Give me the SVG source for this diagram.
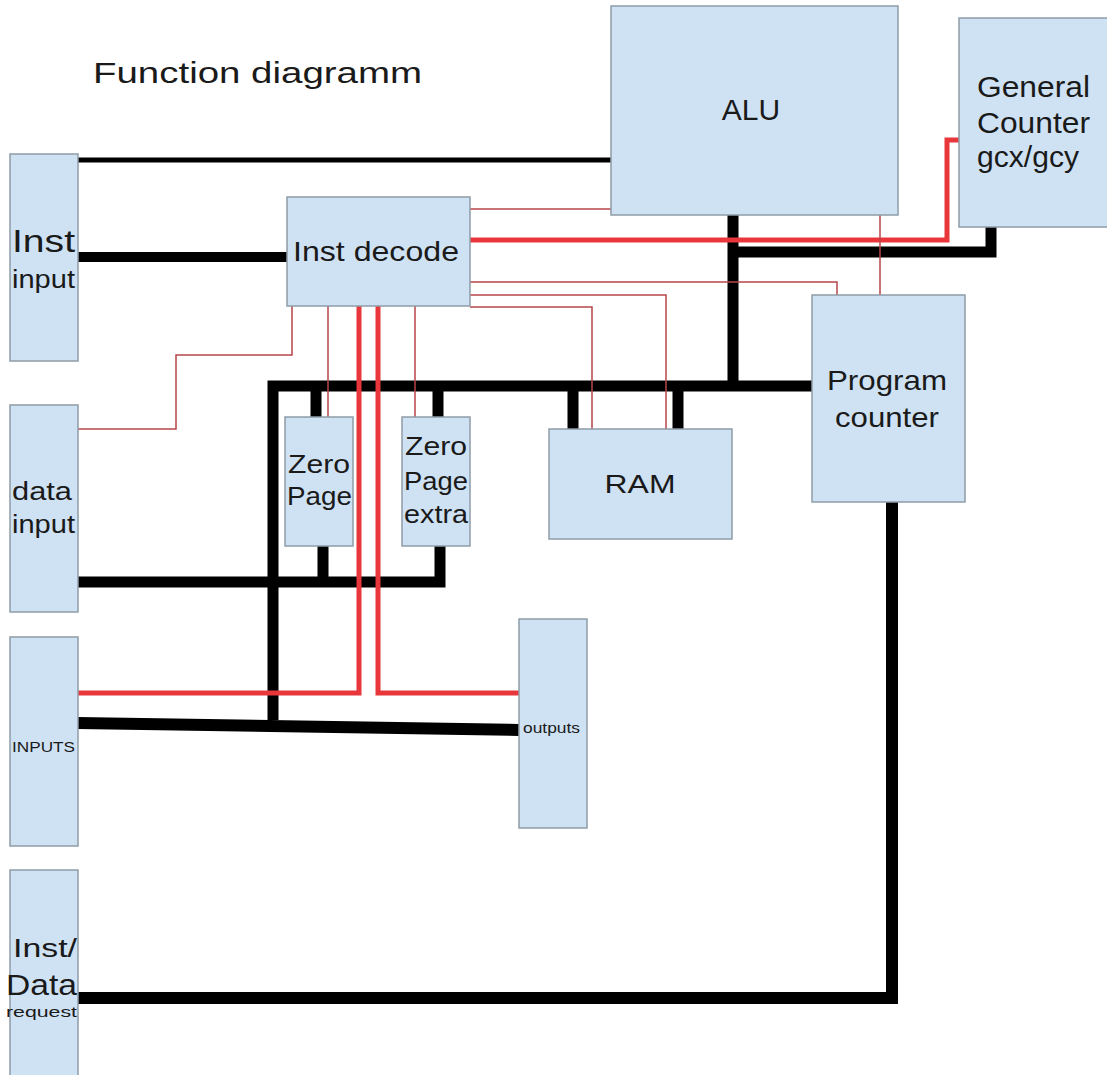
<svg xmlns="http://www.w3.org/2000/svg" width="1107" height="1075" viewBox="0 0 1107 1075">
<style>
.box{fill:#cfe2f3;stroke:#8f9ca8;stroke-width:1.5}
.t{font-family:"Liberation Sans",Arial,sans-serif;fill:#1a1a1a}
.bk{fill:none;stroke:#000;stroke-linejoin:miter}
.rt{fill:none;stroke:#e8363a;stroke-width:5}
.rn{fill:none;stroke:#b8454a;stroke-width:1.5}
</style>
<rect width="1107" height="1075" fill="#fff"/>
<text class="t" x="93" y="83" font-size="30" textLength="329" lengthAdjust="spacingAndGlyphs">Function diagramm</text>

<g id="connectors">
  <path class="bk" stroke-width="5" d="M78,160 H611"/>
  <path class="bk" stroke-width="10" d="M78,257 H287"/>
  <path class="bk" stroke-width="11" d="M733,215 V386"/>
  <path class="bk" stroke-width="11" d="M991,227 V252 H733"/>
  <path class="bk" stroke-width="11" d="M812,386 H273 V720"/>
  <path class="bk" stroke-width="11" d="M316,386 V417 M438,386 V417 M573,386 V429 M678,386 V429"/>
  <path class="bk" stroke-width="11" d="M78,582 H440 V546 M323,546 V582"/>
  <path class="bk" stroke-width="12" d="M78,723 L519,730"/>
  <path class="bk" stroke-width="12" d="M892,502 V998 H78"/>

  <path class="rt" d="M470,240 H947 V140 H959"/>
  <path class="rt" d="M359,306 V693 H78"/>
  <path class="rt" d="M378,306 V693 H519"/>

  <path class="rn" d="M470,209 H611"/>
  <path class="rn" d="M470,282 H837 V295"/>
  <path class="rn" d="M470,295 H666 V429"/>
  <path class="rn" d="M470,307 H592 V429"/>
  <path class="rn" d="M880,215 V295"/>
  <path class="rn" d="M292,306 V355 H176 V429 H78"/>
  <path class="rn" d="M328,306 V417"/>
  <path class="rn" d="M415,306 V417"/>
</g>

<g id="alu">
  <rect class="box" x="611" y="6" width="287" height="209"/>
  <text class="t" x="751" y="120" font-size="30" text-anchor="middle">ALU</text>
</g>
<g id="general-counter">
  <rect class="box" x="959" y="18" width="150" height="209"/>
  <text class="t" x="977" y="97" font-size="30" textLength="113" lengthAdjust="spacingAndGlyphs">General</text>
  <text class="t" x="977" y="133" font-size="30" textLength="113" lengthAdjust="spacingAndGlyphs">Counter</text>
  <text class="t" x="977" y="167" font-size="30" textLength="102" lengthAdjust="spacingAndGlyphs">gcx/gcy</text>
</g>
<g id="inst-decode">
  <rect class="box" x="287" y="197" width="183" height="109"/>
  <text class="t" x="293" y="261" font-size="28" textLength="166" lengthAdjust="spacingAndGlyphs">Inst decode</text>
</g>
<g id="inst-input">
  <rect class="box" x="10" y="154" width="68" height="207"/>
  <text class="t" x="12" y="252" font-size="32" textLength="63" lengthAdjust="spacingAndGlyphs">Inst</text>
  <text class="t" x="12" y="288" font-size="26" textLength="63" lengthAdjust="spacingAndGlyphs">input</text>
</g>
<g id="data-input">
  <rect class="box" x="10" y="405" width="68" height="207"/>
  <text class="t" x="12" y="500" font-size="26" textLength="60" lengthAdjust="spacingAndGlyphs">data</text>
  <text class="t" x="12" y="533" font-size="26" textLength="63" lengthAdjust="spacingAndGlyphs">input</text>
</g>
<g id="inputs">
  <rect class="box" x="10" y="637" width="68" height="209"/>
  <text class="t" x="12" y="752" font-size="14" textLength="63" lengthAdjust="spacingAndGlyphs">INPUTS</text>
</g>
<g id="inst-data-request">
  <rect class="box" x="10" y="870" width="68" height="210"/>
  <text class="t" x="13" y="957" font-size="25" textLength="64" lengthAdjust="spacingAndGlyphs">Inst/</text>
  <text class="t" x="6" y="995" font-size="30" textLength="71" lengthAdjust="spacingAndGlyphs">Data</text>
  <text class="t" x="6" y="1017" font-size="15" textLength="71" lengthAdjust="spacingAndGlyphs">request</text>
</g>
<g id="zero-page">
  <rect class="box" x="285" y="417" width="68" height="129"/>
  <text class="t" x="288" y="473" font-size="25" textLength="62" lengthAdjust="spacingAndGlyphs">Zero</text>
  <text class="t" x="287" y="505" font-size="25" textLength="65" lengthAdjust="spacingAndGlyphs">Page</text>
</g>
<g id="zero-page-extra">
  <rect class="box" x="402" y="417" width="68" height="129"/>
  <text class="t" x="405" y="455" font-size="25" textLength="62" lengthAdjust="spacingAndGlyphs">Zero</text>
  <text class="t" x="404" y="490" font-size="25" textLength="64" lengthAdjust="spacingAndGlyphs">Page</text>
  <text class="t" x="404" y="523" font-size="25" textLength="64" lengthAdjust="spacingAndGlyphs">extra</text>
</g>
<g id="ram">
  <rect class="box" x="549" y="429" width="183" height="110"/>
  <text class="t" x="640" y="493" font-size="26" text-anchor="middle" textLength="71" lengthAdjust="spacingAndGlyphs">RAM</text>
</g>
<g id="program-counter">
  <rect class="box" x="812" y="295" width="153" height="207"/>
  <text class="t" x="827" y="390" font-size="28" textLength="120" lengthAdjust="spacingAndGlyphs">Program</text>
  <text class="t" x="835" y="427" font-size="28" textLength="104" lengthAdjust="spacingAndGlyphs">counter</text>
</g>
<g id="outputs">
  <rect class="box" x="519" y="619" width="68" height="209"/>
  <text class="t" x="523" y="733" font-size="15" textLength="57" lengthAdjust="spacingAndGlyphs">outputs</text>
</g>
</svg>
